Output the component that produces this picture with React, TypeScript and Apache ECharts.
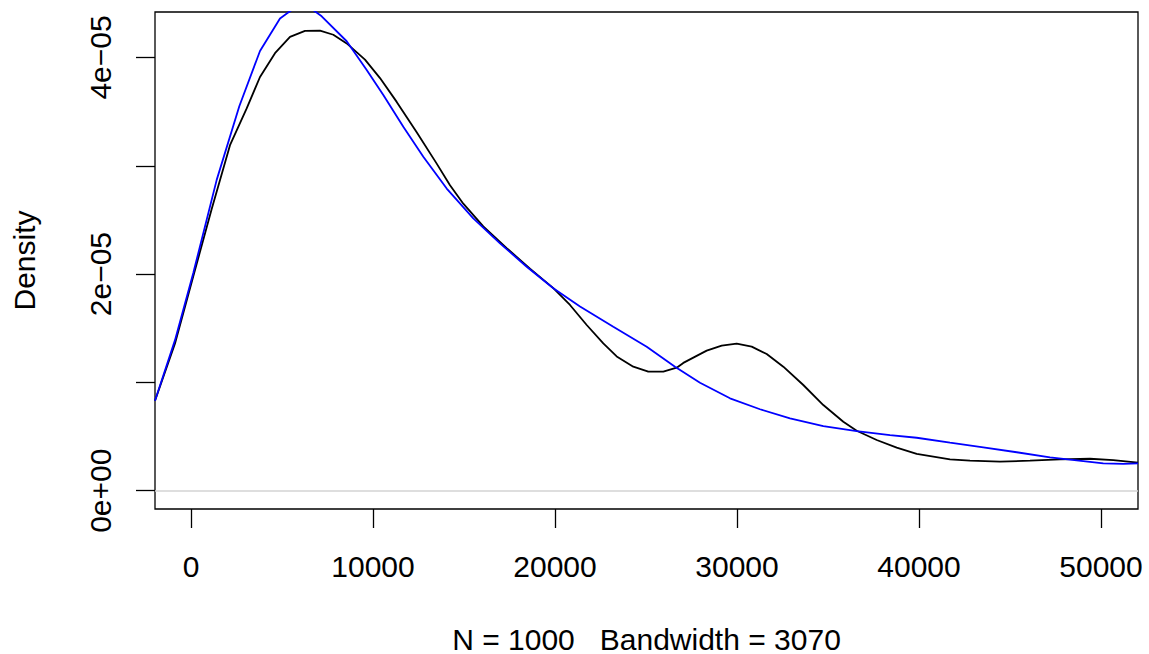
import React, { useEffect, useRef } from "react";
import * as echarts from "echarts";

// Kernel density estimate (black)
const densityX = [
  -1978, -879, 126, 1137, 2143, 3060, 3791, 4615, 5440, 6264, 7088, 7819, 8555, 9560,
  10385, 11302, 12401, 13500, 14231, 14962, 16060, 17346, 18626, 19907, 20824, 21742,
  22654, 23390, 24302, 25126, 25951, 26687, 27050, 28335, 29159, 29983, 30807, 31632,
  32544, 33643, 34742, 35841, 36577, 37676, 38775, 39874, 41703, 42802, 44451, 46099,
  47747, 49396, 50676, 52033,
];
const densityY = [
  0.83e-5, 1.36e-5, 1.98e-5, 2.6e-5, 3.19e-5, 3.53e-5, 3.82e-5, 4.04e-5, 4.19e-5, 4.245e-5,
  4.247e-5, 4.21e-5, 4.13e-5, 3.98e-5, 3.81e-5, 3.59e-5, 3.31e-5, 3.02e-5, 2.82e-5, 2.65e-5,
  2.44e-5, 2.24e-5, 2.05e-5, 1.87e-5, 1.715e-5, 1.53e-5, 1.36e-5, 1.24e-5, 1.145e-5, 1.1e-5,
  1.1e-5, 1.136e-5, 1.18e-5, 1.293e-5, 1.34e-5, 1.357e-5, 1.33e-5, 1.262e-5, 1.145e-5,
  0.976e-5, 0.791e-5, 0.637e-5, 0.554e-5, 0.468e-5, 0.397e-5, 0.339e-5, 0.29e-5, 0.277e-5,
  0.268e-5, 0.277e-5, 0.29e-5, 0.295e-5, 0.283e-5, 0.259e-5,
];

// Fitted curve (blue)
const fitX = [
  -1978, -879, 126, 1412, 2654, 3791, 4890, 5621, 6538, 7181, 8555, 9654, 10567, 11665,
  12764, 14050, 15511, 16978, 18445, 19907, 21374, 23203, 25039, 26593, 27967, 29615,
  31264, 32912, 34742, 36577, 38407, 39874, 41703, 43533, 45368, 47198, 49027, 50126,
  51225, 52033,
];
const fitY = [
  0.83e-5, 1.39e-5, 2.01e-5, 2.87e-5, 3.55e-5, 4.06e-5, 4.36e-5, 4.45e-5, 4.46e-5, 4.38e-5,
  4.15e-5, 3.885e-5, 3.654e-5, 3.36e-5, 3.084e-5, 2.79e-5, 2.515e-5, 2.284e-5, 2.068e-5,
  1.869e-5, 1.7e-5, 1.514e-5, 1.33e-5, 1.145e-5, 0.997e-5, 0.853e-5, 0.752e-5, 0.668e-5,
  0.597e-5, 0.551e-5, 0.514e-5, 0.489e-5, 0.443e-5, 0.401e-5, 0.355e-5, 0.308e-5, 0.274e-5,
  0.253e-5, 0.247e-5, 0.253e-5,
];

const xTickValues = [0, 10000, 20000, 30000, 40000, 50000];
const yTickValues = [0, 1e-5, 2e-5, 3e-5, 4e-5];
const yLabelValues = [0, 2e-5, 4e-5];
const yLabelTexts = ["0e+00", "2e\u221205", "4e\u221205"];

const xTitle = "N = 1000   Bandwidth = 3070";
const yTitle = "Density";

const FONT = "'Liberation Sans', Arial, Helvetica, sans-serif";

export default function App() {
  const ref = useRef<HTMLDivElement>(null);

  useEffect(() => {
    if (!ref.current) return;
    const chart = echarts.init(ref.current, undefined, { renderer: "svg" });
    const black = densityX.map((x, i) => [x, densityY[i]]);
    const blue = fitX.map((x, i) => [x, fitY[i]]);

    chart.setOption({
      animation: false,
      backgroundColor: "#fff",
      grid: {
        left: 155,
        top: 12,
        width: 983,
        height: 497,
        show: true,
        borderColor: "#000",
        borderWidth: 1.3,
        backgroundColor: "transparent",
      },
      xAxis: {
        type: "value",
        min: -1978,
        max: 52033,
        axisLine: { show: false, onZero: false },
        splitLine: { show: false },
        axisTick: {
          show: true,
          inside: false,
          length: 19,
          lineStyle: { color: "#000", width: 1.3 },
          customValues: xTickValues,
        },
        axisLabel: {
          customValues: xTickValues,
          formatter: (v: number) => String(v),
          fontSize: 30,
          color: "#000",
          margin: 42,
          fontFamily: FONT,
        },
      },
      yAxis: {
        type: "value",
        min: -1.69e-6,
        max: 4.42e-5,
        axisLine: { show: false, onZero: false },
        splitLine: { show: false },
        axisTick: {
          show: true,
          inside: false,
          length: 19,
          lineStyle: { color: "#000", width: 1.3 },
          customValues: yTickValues,
        },
        axisLabel: {
          customValues: yLabelValues,
          rotate: 90,
          formatter: (v: number) => {
            let best = 0;
            for (let i = 0; i < yLabelValues.length; i++) {
              if (Math.abs(yLabelValues[i] - v) < Math.abs(yLabelValues[best] - v)) best = i;
            }
            return yLabelTexts[best];
          },
          fontSize: 30,
          color: "#000",
          margin: 40,
          fontFamily: FONT,
        },
      },
      graphic: [
        {
          type: "text",
          x: 646.5,
          y: 639,
          style: {
            text: xTitle,
            fontSize: 30,
            lineHeight: 24,
            fontFamily: FONT,
            fill: "#000",
            align: "center",
            verticalAlign: "middle",
          },
        },
        {
          type: "text",
          x: 24,
          y: 260.5,
          rotation: Math.PI / 2,
          style: {
            text: yTitle,
            fontSize: 30,
            fontFamily: FONT,
            fill: "#000",
            align: "center",
            verticalAlign: "middle",
          },
        },
      ],
      series: [
        {
          type: "line",
          data: black,
          symbol: "none",
          showSymbol: false,
          clip: true,
          lineStyle: { color: "#000", width: 1.8 },
          markLine: {
            silent: true,
            symbol: ["none", "none"],
            label: { show: false },
            lineStyle: { color: "#D3D3D3", width: 1.5, type: "solid" },
            data: [{ yAxis: 0 }],
          },
          z: 2,
        },
        {
          type: "line",
          data: blue,
          symbol: "none",
          showSymbol: false,
          clip: true,
          lineStyle: { color: "#0000FF", width: 1.8 },
          z: 3,
        },
      ],
    });

    return () => chart.dispose();
  }, []);

  return (
    <div
      ref={ref}
      style={{ position: "fixed", left: 0, top: 0, width: 1149, height: 654 }}
    />
  );
}
